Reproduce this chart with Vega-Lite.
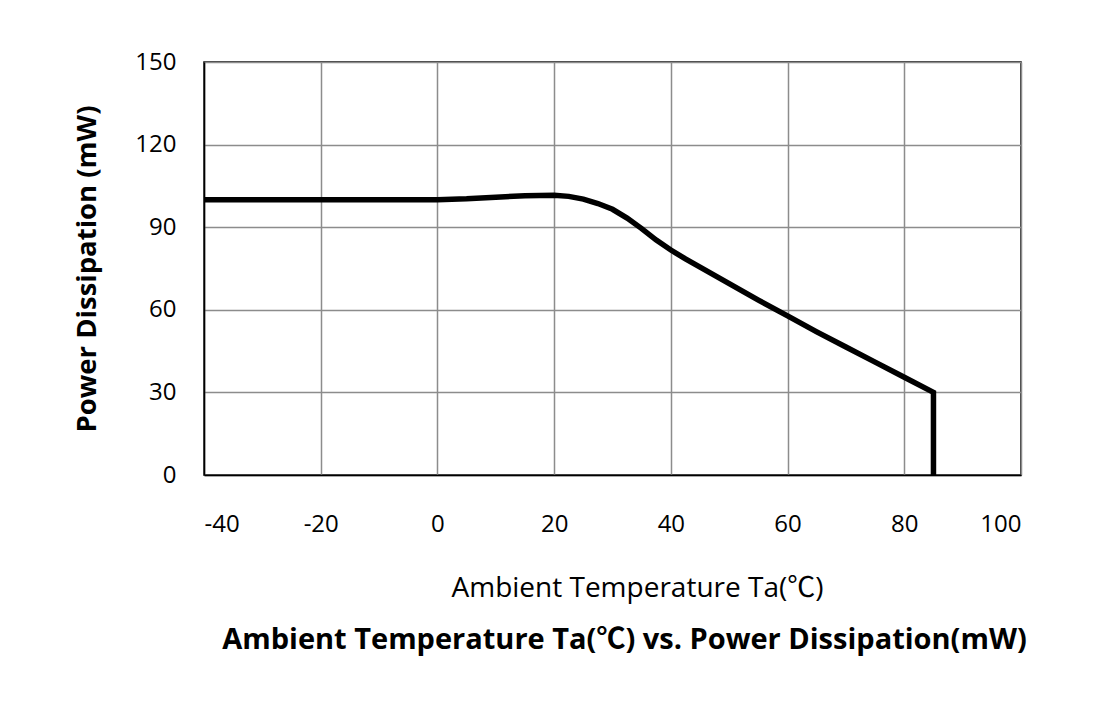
{
  "$schema": "https://vega.github.io/schema/vega-lite/v6.json",
  "width": 817,
  "height": 413,
  "autosize": "none",
  "padding": {"left": 204, "top": 62, "right": 99, "bottom": 240},
  "background": "white",
  "config": {
    "font": "Open Sans, Noto Sans CJK KR",
    "view": {"stroke": "#000", "strokeWidth": 1.5}
  },
  "title": {
    "text": "Ambient Temperature Ta(℃) vs. Power Dissipation(mW)",
    "orient": "bottom",
    "anchor": "middle",
    "dx": 12,
    "offset": 24,
    "fontSize": 29,
    "fontWeight": "bold",
    "font": "Open Sans, Noto Sans CJK KR",
    "color": "#000"
  },
  "data": {
    "values": [
      {"t": -40, "p": 100},
      {"t": -20, "p": 100},
      {"t": 0, "p": 100},
      {"t": 5, "p": 100.3},
      {"t": 10, "p": 100.9},
      {"t": 15, "p": 101.4},
      {"t": 20, "p": 101.6},
      {"t": 22.5, "p": 101.2},
      {"t": 25, "p": 100.2},
      {"t": 27.5, "p": 98.6},
      {"t": 30, "p": 96.5},
      {"t": 32.5, "p": 93.3},
      {"t": 35, "p": 89.5},
      {"t": 37.5, "p": 85.3},
      {"t": 40, "p": 81.7},
      {"t": 42.5, "p": 78.5},
      {"t": 45, "p": 75.5},
      {"t": 50, "p": 69.5},
      {"t": 55, "p": 63.5},
      {"t": 60, "p": 57.8},
      {"t": 65, "p": 52},
      {"t": 70, "p": 46.5},
      {"t": 75, "p": 41},
      {"t": 80, "p": 35.5},
      {"t": 85, "p": 30},
      {"t": 85, "p": 0}
    ]
  },
  "mark": {"type": "line", "color": "#000", "strokeWidth": 5.5, "interpolate": "linear", "strokeJoin": "miter"},
  "encoding": {
    "order": {"value": 0},
    "x": {
      "field": "t",
      "type": "quantitative",
      "scale": {"domain": [-40, 100], "nice": false, "zero": false},
      "axis": {
        "values": [-40, -20, 0, 20, 40, 60, 80, 100],
        "labelExpr": "replace(datum.label, '−', '-')",
        "title": "Ambient Temperature Ta(℃)",
        "titleFontSize": 28,
        "titleFontWeight": "normal",
        "titleColor": "#000",
        "titlePadding": 38,
        "titleX": 433,
        "labelFontSize": 24,
        "labelColor": "#000",
        "labelPadding": 37,
        "ticks": false,
        "domain": true,
        "domainColor": "#000",
        "domainWidth": 1.5,
        "grid": true,
        "gridColor": "#8c8c8c",
        "gridWidth": 1.5
      }
    },
    "y": {
      "field": "p",
      "type": "quantitative",
      "scale": {"domain": [0, 150], "nice": false},
      "axis": {
        "values": [0, 30, 60, 90, 120, 150],
        "title": "Power Dissipation (mW)",
        "titleFontSize": 27.5,
        "titleFontWeight": "bold",
        "titleColor": "#000",
        "titlePadding": 33,
        "labelFontSize": 24,
        "labelColor": "#000",
        "labelPadding": 28,
        "ticks": false,
        "domain": true,
        "domainColor": "#000",
        "domainWidth": 1.5,
        "grid": true,
        "gridColor": "#8c8c8c",
        "gridWidth": 1.5
      }
    }
  }
}
